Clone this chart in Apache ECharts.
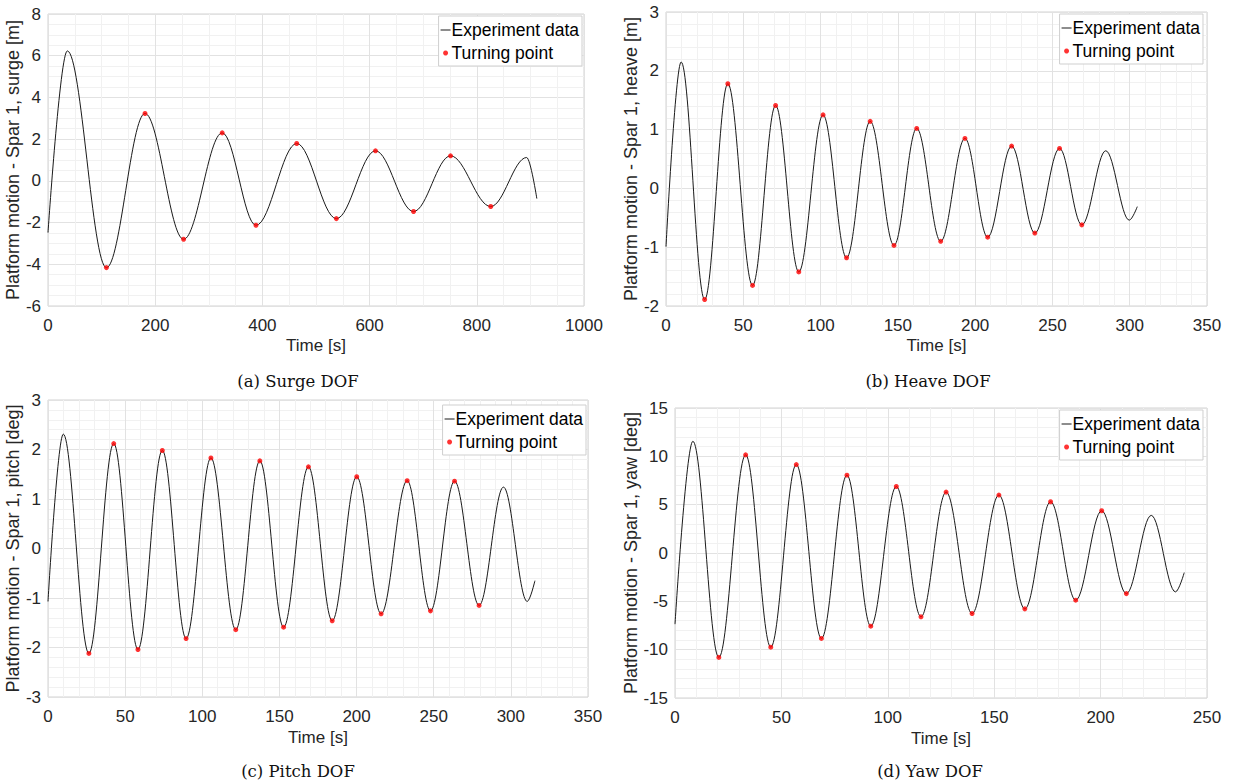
<!DOCTYPE html>
<html><head><meta charset="utf-8">
<script src="https://cdn.jsdelivr.net/npm/echarts@6/dist/echarts.min.js"></script>
<style>html,body{margin:0;padding:0;background:#fff}#c{width:1235px;height:783px}</style>
</head><body><div id="c"></div>
<script>
// ---------- data (time [s], value) ----------
const surgeExp = [[0,-2.48],[36,6.23],[109,-4.16],[181,3.23],[253,-2.8],[325,2.3],[388,-2.13],[464,1.79],[538,-1.81],[611,1.44],[682,-1.47],[751,1.2],[826,-1.23],[893,1.12],[912,-0.85]];
const surgeTurn = [[109,-4.16],[181,3.23],[253,-2.8],[325,2.3],[388,-2.13],[464,1.79],[538,-1.81],[611,1.44],[682,-1.47],[751,1.2],[826,-1.23]];

const heaveExp = [[0,-0.99],[9.8,2.15],[25,-1.89],[40,1.78],[56,-1.65],[70.9,1.41],[85.9,-1.42],[101.6,1.25],[116.8,-1.18],[132.1,1.14],[147.5,-0.97],[162.2,1.02],[177.7,-0.9],[193.4,0.85],[208.1,-0.83],[223.6,0.72],[238.6,-0.76],[254.6,0.68],[269,-0.62],[284.5,0.64],[299.7,-0.54],[304.9,-0.31]];
const heaveTurn = [[25,-1.89],[40,1.78],[56,-1.65],[70.9,1.41],[85.9,-1.42],[101.6,1.25],[116.8,-1.18],[132.1,1.14],[147.5,-0.97],[162.2,1.02],[177.7,-0.9],[193.4,0.85],[208.1,-0.83],[223.6,0.72],[238.6,-0.76],[254.6,0.68],[269,-0.62]];

const pitchExp = [[0,-1.07],[9.9,2.31],[26.5,-2.12],[42.6,2.12],[58.3,-2.04],[74.1,1.98],[89.5,-1.82],[105.6,1.83],[121.7,-1.64],[137.3,1.77],[152.7,-1.59],[168.8,1.65],[184.2,-1.46],[200.1,1.45],[215.9,-1.32],[232.8,1.37],[247.9,-1.26],[263.5,1.36],[279.4,-1.15],[295.2,1.24],[310.6,-1.07],[315.6,-0.65]];
const pitchTurn = [[26.5,-2.12],[42.6,2.12],[58.3,-2.04],[74.1,1.98],[89.5,-1.82],[105.6,1.83],[121.7,-1.64],[137.3,1.77],[152.7,-1.59],[168.8,1.65],[184.2,-1.46],[200.1,1.45],[215.9,-1.32],[232.8,1.37],[247.9,-1.26],[263.5,1.36],[279.4,-1.15]];

const yawExp = [[0,-7.36],[8.4,11.56],[20.6,-10.8],[33.2,10.15],[45,-9.74],[57,9.15],[68.8,-8.84],[80.8,8.05],[92,-7.57],[104,6.88],[115.6,-6.6],[127.4,6.3],[139.6,-6.26],[152.2,5.99],[164.4,-5.78],[176.5,5.3],[188.3,-4.88],[200.5,4.37],[212.1,-4.2],[223.8,3.89],[235.2,-4.02],[239.3,-2.03]];
const yawTurn = [[20.6,-10.8],[33.2,10.15],[45,-9.74],[57,9.15],[68.8,-8.84],[80.8,8.05],[92,-7.57],[104,6.88],[115.6,-6.6],[127.4,6.3],[139.6,-6.26],[152.2,5.99],[164.4,-5.78],[176.5,5.3],[188.3,-4.88],[200.5,4.37],[212.1,-4.2]];

const yNames = ['Platform motion - Spar 1, surge [m]','Platform motion - Spar 1, heave [m]','Platform motion - Spar 1, pitch [deg]','Platform motion - Spar 1, yaw [deg]'];
const captions = ['(a) Surge DOF','(b) Heave DOF','(c) Pitch DOF','(d) Yaw DOF'];
const xName = 'Time [s]';
const legendNames = ['Experiment data','Turning point'];

// axis ranges / ticks
const xAxes = [{min:0,max:1000,interval:200,minor:4},{min:0,max:350,interval:50,minor:5},{min:0,max:350,interval:50,minor:5},{min:0,max:250,interval:50,minor:5}];
const yAxes = [{min:-6,max:8,interval:2,minor:4},{min:-2,max:3,interval:1,minor:5},{min:-3,max:3,interval:1,minor:5},{min:-15,max:15,interval:5,minor:5}];

// ---------- layout ----------
const layout = [
  {grid:{left:48,top:14,width:536,height:292}, yGap:20, xGap:31, legend:{right:653,top:16}, cap:[298,381]},
  {grid:{left:666,top:12,width:541,height:294}, yGap:22, xGap:31, legend:{right:32,top:14}, cap:[928,381]},
  {grid:{left:48,top:400,width:540,height:297}, yGap:20, xGap:32, legend:{right:649,top:405}, cap:[298,771]},
  {grid:{left:675,top:408,width:532,height:290}, yGap:30, xGap:32, legend:{right:32,top:410}, cap:[930,771]}
];

const expData = [surgeExp, heaveExp, pitchExp, yawExp];
const turnData = [surgeTurn, heaveTurn, pitchTurn, yawTurn];

const FONT = '"Liberation Sans", Arial, sans-serif';
const TXT = '#262626';
const grids = [], xs = [], ys = [], series = [], legends = [], graphics = [];

layout.forEach((L, i) => {
  grids.push(Object.assign({show:true, borderColor:'#d2d2d2', borderWidth:1, backgroundColor:'#fff'}, L.grid));
  const common = {
    gridIndex:i,
    axisLine:{show:false}, axisTick:{show:false},
    splitLine:{show:true, lineStyle:{color:'#e2e2e2', width:1}},
    minorSplitLine:{show:true, lineStyle:{color:'#f1f1f1', width:1}},
    axisLabel:{color:TXT, fontSize:17, fontFamily:FONT, formatter:v => String(v)},
    nameTextStyle:{color:TXT, fontSize:17, fontFamily:FONT}
  };
  xs.push(Object.assign({}, common, {
    type:'value', min:xAxes[i].min, max:xAxes[i].max, interval:xAxes[i].interval,
    minorTick:{show:false, splitNumber:xAxes[i].minor},
    name:xName, nameLocation:'middle', nameGap:L.xGap,
    axisLabel:Object.assign({}, common.axisLabel, {margin:11})
  }));
  ys.push(Object.assign({}, common, {
    type:'value', min:yAxes[i].min, max:yAxes[i].max, interval:yAxes[i].interval,
    minorTick:{show:false, splitNumber:yAxes[i].minor},
    name:yNames[i], nameLocation:'middle', nameGap:L.yGap,
    nameTextStyle:Object.assign({}, common.nameTextStyle, {fontSize:18}),
    axisLabel:Object.assign({}, common.axisLabel, {margin:7})
  }));
  series.push({
    type:'line', name:legendNames[0], xAxisIndex:i, yAxisIndex:i,
    data:expData[i], showSymbol:false, symbol:'none',
    smooth:0.36, smoothMonotone:'x',
    lineStyle:{color:'#1a1a1a', width:1}, itemStyle:{color:'#1a1a1a'},
    z:2, silent:true
  });
  series.push({
    type:'scatter', name:legendNames[1], xAxisIndex:i, yAxisIndex:i,
    data:turnData[i], symbol:'circle', symbolSize:5,
    itemStyle:{color:'#ff0000'}, z:3, silent:true
  });
  legends.push({
    right:L.legend.right, top:L.legend.top, orient:'vertical',
    backgroundColor:'#fff', borderColor:'#cfcfcf', borderWidth:1, borderRadius:0,
    padding:[5,3,4,2], itemGap:5, itemWidth:10, itemHeight:5,
    symbolKeepAspect:true, selectedMode:false,
    textStyle:{color:'#000', fontSize:17.5, fontFamily:FONT, padding:[0,0,0,-4]},
    data:[
      {name:legendNames[0], icon:'path://M0,0L10,0L10,1L0,1Z', itemStyle:{color:'#1a1a1a'}},
      {name:legendNames[1], icon:'circle'}
    ]
  });
  graphics.push({
    type:'text', x:L.cap[0], y:L.cap[1],
    style:{text:captions[i], textAlign:'center', textVerticalAlign:'middle',
           font:'16.5px "DejaVu Serif", serif', fill:'#111'}
  });
});

const chart = echarts.init(document.getElementById('c'), null, {renderer:'svg', width:1235, height:783});
chart.setOption({
  animation:false,
  backgroundColor:'#fff',
  grid:grids, xAxis:xs, yAxis:ys, series:series, legend:legends, graphic:graphics
});
</script>
</body></html>
